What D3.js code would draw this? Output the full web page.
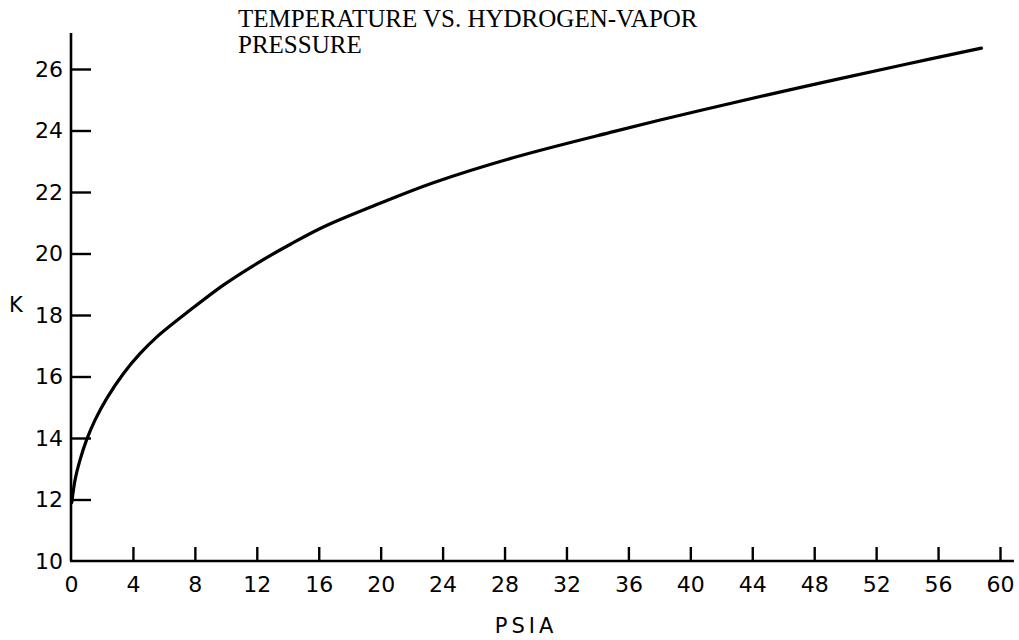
<!DOCTYPE html>
<html>
<head>
<meta charset="utf-8">
<script src="https://cdn.jsdelivr.net/npm/d3@7"></script>
<style>
  body { margin: 0; background: #fff; }
  svg { display: block; }
</style>
</head>
<body>
<script>
// pressure (psia)
const psia = [0.05, 0.26, 0.58, 1.0, 1.55, 2.31, 3.39, 4.47, 5.55, 7.7, 9.86, 12.02, 14.17, 16.33, 20.0, 23.4, 28.6, 35.1, 40.7, 47.2, 53.7, 58.8];
// temperature (K) at those pressures
const kelvin = [11.9, 12.63, 13.28, 13.93, 14.58, 15.29, 16.1, 16.75, 17.29, 18.16, 18.98, 19.68, 20.3, 20.87, 21.64, 22.3, 23.12, 23.97, 24.66, 25.41, 26.13, 26.68];

const xTicks = [0, 4, 8, 12, 16, 20, 24, 28, 32, 36, 40, 44, 48, 52, 56, 60];
const yTicks = [10, 12, 14, 16, 18, 20, 22, 24, 26];

const titleLines = ["TEMPERATURE VS. HYDROGEN-VAPOR", "PRESSURE"];
const xLabel = "PSIA";
const yLabel = "K";

const width = 1019, height = 640;

const svg = d3.select("body").append("svg")
    .attr("width", width)
    .attr("height", height);

const x = d3.scaleLinear()
    .domain([0, 60])
    .range([71, 1000]);

const y = d3.scaleLinear()
    .domain([10, 26])
    .range([561, 69]);

const sans = "'DejaVu Sans', Verdana, sans-serif";

// axis lines drawn a bit past the last ticks, like the original
svg.append("line")
    .attr("x1", x(0)).attr("x2", x(0))
    .attr("y1", y(10)).attr("y2", y(27.17))
    .attr("stroke", "#000").attr("stroke-width", 2.6);

svg.append("line")
    .attr("x1", x(0) - 1).attr("x2", x(60.9))
    .attr("y1", y(10)).attr("y2", y(10))
    .attr("stroke", "#000").attr("stroke-width", 2.6);

const xAxis = svg.append("g")
    .attr("transform", `translate(0,${y(10)})`)
    .call(d3.axisBottom(x).tickValues(xTicks).tickSize(-14).tickPadding(15).tickFormat(d3.format("d")));

const yAxis = svg.append("g")
    .attr("transform", `translate(${x(0)},0)`)
    .call(d3.axisLeft(y).tickValues(yTicks).tickSize(-20).tickPadding(8).tickFormat(d3.format("d")));

[xAxis, yAxis].forEach(g => {
    g.select(".domain").remove();
    g.selectAll(".tick line").attr("stroke", "#000").attr("stroke-width", 2.4);
    g.selectAll(".tick text")
        .attr("fill", "#000")
        .style("font-family", sans)
        .style("font-size", "22px");
});
// the 0 tick sits on the y axis, no mark there
xAxis.selectAll(".tick").filter(d => d === 0).select("line").remove();
yAxis.selectAll(".tick").filter(d => d === 10).select("line").remove();

const line = d3.line()
    .x((d, i) => x(psia[i]))
    .y(d => y(d))
    .curve(d3.curveCatmullRom.alpha(0.5));

svg.append("path")
    .datum(kelvin)
    .attr("d", line)
    .attr("fill", "none")
    .attr("stroke", "#000")
    .attr("stroke-width", 3.2)
    .attr("stroke-linecap", "round");

svg.append("text")
    .attr("x", 16)
    .attr("y", 312)
    .attr("text-anchor", "middle")
    .style("font-family", sans)
    .style("font-size", "21px")
    .text(yLabel);

svg.append("text")
    .attr("x", 526)
    .attr("y", 633)
    .attr("text-anchor", "middle")
    .style("font-family", sans)
    .style("font-size", "21px")
    .style("letter-spacing", "4px")
    .text(xLabel);

svg.selectAll(".title")
    .data(titleLines)
    .enter().append("text")
    .attr("class", "title")
    .attr("x", 238)
    .attr("y", (d, i) => 27 + i * 26)
    .style("font-family", "'Liberation Serif', 'Times New Roman', serif")
    .style("font-size", "25px")
    .text(d => d);
</script>
</body>
</html>
